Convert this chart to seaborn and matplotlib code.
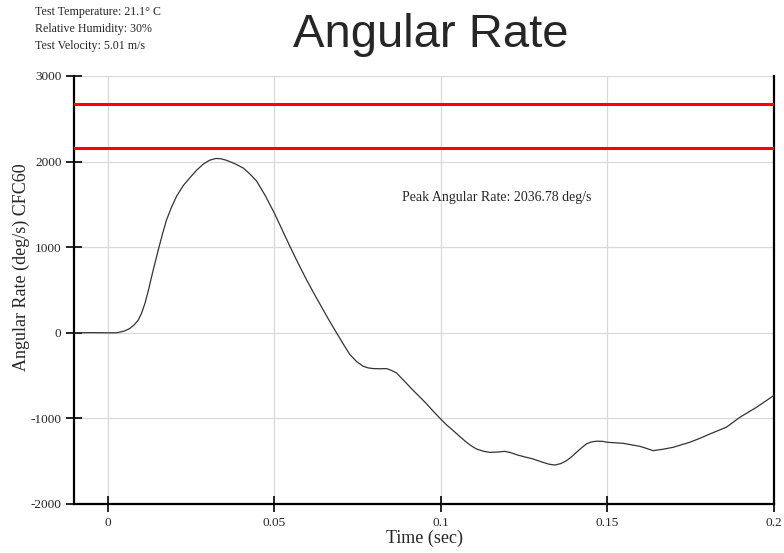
import matplotlib
matplotlib.use("Agg")
import matplotlib.pyplot as plt
import seaborn as sns
import pandas as pd

# Angular rate trace (CFC60 filtered)
time_s = [-0.0099, -0.005, 0.0, 0.0027, 0.0050, 0.0067, 0.0080, 0.0092, 0.0102, 0.0112,
          0.0122, 0.0132, 0.0142, 0.0152, 0.0165, 0.0177, 0.0192, 0.0207, 0.0227, 0.0247,
          0.0267, 0.0287, 0.0305, 0.0325, 0.0340, 0.0357, 0.0382, 0.0407, 0.0427, 0.0447,
          0.0472, 0.0500, 0.0523, 0.0547, 0.0572, 0.0597, 0.0622, 0.0647, 0.0667, 0.0687,
          0.0707, 0.0727, 0.0747, 0.0767, 0.0782, 0.0797, 0.0817, 0.0837, 0.0852, 0.0867,
          0.0887, 0.0917, 0.0937, 0.0957, 0.0977, 0.0999, 0.1017, 0.1037, 0.1057, 0.1077,
          0.1092, 0.1107, 0.1127, 0.1147, 0.1170, 0.1192, 0.1210, 0.1227, 0.1252, 0.1277,
          0.1307, 0.1325, 0.1342, 0.1360, 0.1377, 0.1392, 0.1407, 0.1422, 0.1437, 0.1452,
          0.1467, 0.1485, 0.1500, 0.1547, 0.1597, 0.1617, 0.1637, 0.1667, 0.1697, 0.1747,
          0.1778, 0.1808, 0.1857, 0.1898, 0.1948, 0.2000]
rate_dps = [0, 2, 0, 0, 20, 52, 95, 149, 230, 345,
            490, 657, 815, 970, 1160, 1322, 1470, 1596, 1720, 1812,
            1900, 1970, 2015, 2036.78, 2033, 2015, 1975, 1925, 1855, 1773,
            1610, 1401, 1210, 1010, 810, 619, 440, 267, 130, 0,
            -130, -254, -335, -391, -410, -418, -420, -418, -440, -469,
            -550, -673, -750, -829, -915, -1005, -1075, -1142, -1212, -1279,
            -1322, -1357, -1383, -1397, -1393, -1385, -1400, -1424, -1450, -1474,
            -1514, -1535, -1545, -1528, -1494, -1450, -1397, -1345, -1298, -1275,
            -1266, -1268, -1279, -1291, -1326, -1350, -1377, -1360, -1338, -1279,
            -1232, -1181, -1103, -986, -869, -731]

# Corridor limits
limit_lines = [2675, 2160]

x_ticks = [0, 0.05, 0.1, 0.15, 0.2]
x_tick_labels = ["0", "0.05", "0.1", "0.15", "0.2"]
y_ticks = [-2000, -1000, 0, 1000, 2000, 3000]
y_tick_labels = ["-2000", "-1000", "0", "1000", "2000", "3000"]

test_info = ["Test Temperature: 21.1\u00b0 C", "Relative Humidity: 30%", "Test Velocity: 5.01 m/s"]

sns.set_style("white")
serif = ["Liberation Serif", "DejaVu Serif"]
plt.rcParams["font.family"] = serif

df = pd.DataFrame({"Time (sec)": time_s, "rate": rate_dps})

fig = plt.figure(figsize=(7.84, 5.53), dpi=100)
ax = fig.add_axes([74 / 784, 1 - 504 / 553, 700 / 784, 428 / 553])

ax.set_xlim(-0.0101, 0.2)
ax.set_ylim(-2000, 3000)
ax.set_xticks(x_ticks)
ax.set_xticklabels(x_tick_labels)
ax.set_yticks(y_ticks)
ax.set_yticklabels(y_tick_labels)
ax.grid(True, color="#d9d9d9", linewidth=0.9)
ax.set_axisbelow(True)

for lim in limit_lines:
    ax.axhline(lim, color="#ff0000", linewidth=2.2, zorder=3)

sns.lineplot(data=df, x="Time (sec)", y="rate", ax=ax, color="#333333",
             linewidth=0.9, zorder=4)

ax.tick_params(axis="both", direction="inout", length=12, width=1.2,
               color="black", labelsize=9.5, pad=3, bottom=True, left=True,
               top=False, right=False)
ax.tick_params(axis="x", pad=3.5)

for side in ["left", "bottom", "right"]:
    ax.spines[side].set_visible(True)
    ax.spines[side].set_color("black")
    ax.spines[side].set_linewidth(1.6)
ax.spines["top"].set_visible(False)

ax.set_xlabel("Time (sec)", fontsize=13)
ax.set_ylabel("Angular Rate (deg/s) CFC60", fontsize=13)
ax.xaxis.set_label_coords(0.501, -0.061)
ax.yaxis.set_label_coords(-0.063, 0.554)

peak = max(rate_dps)
ax.text(0.0883, 1577, f"Peak Angular Rate: {peak:.2f} deg/s", fontsize=10,
        ha="left", va="center")

fig.text(0.55, 1 - 35 / 553, "Angular Rate", fontsize=34,
         family=["Liberation Sans", "DejaVu Sans"], ha="center", va="center")

for i, line in enumerate(test_info):
    fig.text(35 / 784, 1 - (12 + 17 * i) / 553, line, fontsize=8.6,
             ha="left", va="center")

fig.savefig("out.png", dpi=100)
